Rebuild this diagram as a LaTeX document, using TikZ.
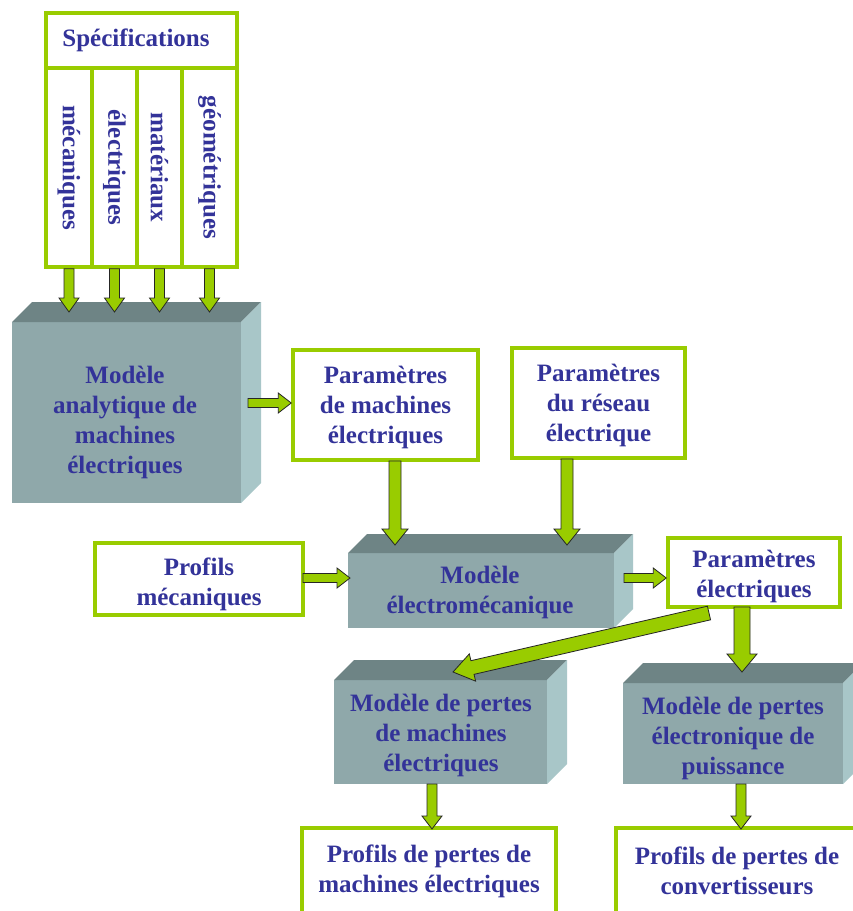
\documentclass[tikz,border=0pt]{standalone}
\usepackage{fontspec}
\setmainfont{Liberation Serif}
\usepackage{graphicx}
\usetikzlibrary{calc}
\definecolor{gr}{RGB}{153,204,0}
\definecolor{txt}{RGB}{51,51,153}
\definecolor{frontc}{RGB}{143,168,170}
\definecolor{topc}{RGB}{110,132,133}
\definecolor{sidec}{RGB}{168,198,200}
\newcommand{\txtfont}{\fontsize{25}{30}\selectfont\bfseries}
\tikzset{
  greenbox/.style={draw=gr, line width=3.5pt, fill=white, inner sep=0pt, align=center, text=txt, font=\txtfont},
  frontface/.style={fill=frontc, inner sep=0pt, outer sep=0pt},
  btext/.style={align=center, text=txt, font=\txtfont, inner sep=0pt},
  barrow/.style={fill=gr, draw=black!85, line width=0.8pt, line join=miter},
}
% #1 tail, #2 tip, #3 half shaft, #4 half head, #5 head length
\newcommand{\blockarrow}[5]{%
  \coordinate (bah) at ($(#2)!#5!(#1)$);
  \draw[barrow] ($(#1)!#3!90:(#2)$) -- ($(bah)!#3!90:(#2)$) -- ($(bah)!#4!90:(#2)$) -- (#2)
    -- ($(bah)!#4!-90:(#2)$) -- ($(bah)!#3!-90:(#2)$) -- ($(#1)!#3!-90:(#2)$) -- cycle;}
\newcommand{\boxthreed}[2]{%
  \fill[topc] (#1.north west) -- ++(#2,-#2) -- ($(#1.north east)+(#2,-#2)$) -- (#1.north east) -- cycle;
  \fill[sidec] (#1.north east) -- ++(#2,-#2) -- ($(#1.south east)+(#2,-#2)$) -- (#1.south east) -- cycle;}
\begin{document}
\begin{tikzpicture}[x=1pt,y=-1pt]
\useasboundingbox (0,0) rectangle (853,911);
\clip (0,0) rectangle (853,911);
\fill[white] (0,0) rectangle (853,911);

% Specifications
\node[greenbox, minimum width=191pt, minimum height=55pt] (spec) at (141.5,40.5) {};
\node[btext] (spect) at (136,40) {Spécifications};
\node[greenbox, minimum width=46pt, minimum height=199pt] (c1) at (69,167.5) {\rotatebox{-90}{mécaniques}};
\node[greenbox, minimum width=45pt, minimum height=199pt] (c2) at (114.5,167.5) {\rotatebox{-90}{électriques}};
\node[greenbox, minimum width=45pt, minimum height=199pt] (c3) at (159.5,167.5) {\rotatebox{-90}{matériaux}};
\node[greenbox, minimum width=55pt, minimum height=199pt] (c4) at (209.5,167.5) {\rotatebox{-90}{géométriques}};

% 3D boxes
\node[frontface, minimum width=229pt, minimum height=181pt] (m1) at (126.5,412.5) {};
\boxthreed{m1}{20}
\node[btext] (m1t) at (125,422) {Modèle\\analytique de\\machines\\électriques};

\node[frontface, minimum width=266pt, minimum height=75pt] (m2) at (481,590.5) {};
\boxthreed{m2}{19}
\node[btext] (m2t) at (480,592) {Modèle\\électromécanique};

\node[frontface, minimum width=213pt, minimum height=104pt] (m3) at (440.5,732) {};
\boxthreed{m3}{20}
\node[btext] (m3t) at (441,735) {Modèle de pertes\\de machines\\électriques};

\node[frontface, minimum width=220pt, minimum height=101pt] (m4) at (733,733.5) {};
\boxthreed{m4}{20}
\node[btext] (m4t) at (733,738) {Modèle de pertes\\électronique de\\puissance};

% green boxes
\node[greenbox, minimum width=185pt, minimum height=110pt] (pm) at (385.5,405) {};
\node[btext] (pmt) at (385.5,407) {Paramètres\\de machines\\électriques};
\node[greenbox, minimum width=173pt, minimum height=110pt] (pr) at (598.5,403) {};
\node[btext] (prt) at (598.5,405) {Paramètres\\du réseau\\électrique};
\node[greenbox, minimum width=208pt, minimum height=72pt] (pmec) at (199,579) {};
\node[btext] (pmect) at (199,584) {Profils\\mécaniques};
\node[greenbox, minimum width=172pt, minimum height=69pt] (pe) at (754,572.5) {};
\node[btext] (pet) at (754,576) {Paramètres\\électriques};
\node[greenbox, minimum width=254pt, minimum height=86pt] (b1) at (429,871) {Profils de pertes de\\machines électriques};
\node[greenbox, minimum width=242pt, minimum height=86pt] (b2) at (737,871) {Profils de pertes de\\convertisseurs};

% arrow coordinates
\coordinate (ylev) at (0,312);
\coordinate (t1) at (c1.south |- ylev);
\coordinate (t2) at (c2.south |- ylev);
\coordinate (t3) at (c3.south |- ylev);
\coordinate (t4) at (c4.south |- ylev);
\coordinate (a5s) at (248,403);
\coordinate (a6s) at (395,461);
\coordinate (a6e) at (395,545);
\coordinate (a7s) at (567,459);
\coordinate (a7e) at (567,545);
\coordinate (a8s) at (303,578);
\coordinate (a8e) at (350,578);
\coordinate (a9s) at (624,578);
\coordinate (a10s) at (742,607);
\coordinate (a10e) at (742,672);
\coordinate (a11s) at (709,613);
\coordinate (a11e) at (453,672);
\coordinate (a12s) at (432,784);
\coordinate (a12e) at (432,829);
\coordinate (a13s) at (741,784);
\coordinate (a13e) at (741,829);

% arrows
\blockarrow{c1.south}{t1}{5pt}{10pt}{14pt}
\blockarrow{c2.south}{t2}{5pt}{10pt}{14pt}
\blockarrow{c3.south}{t3}{5pt}{10pt}{14pt}
\blockarrow{c4.south}{t4}{5pt}{10pt}{14pt}
\blockarrow{a5s}{pm.west |- a5s}{4.5pt}{10pt}{13pt}
\blockarrow{a6s}{a6e}{6pt}{13pt}{16pt}
\blockarrow{a7s}{a7e}{6pt}{13pt}{16pt}
\blockarrow{a8s}{a8e}{4.5pt}{10pt}{13pt}
\blockarrow{a9s}{pe.west |- a9s}{4.5pt}{10pt}{13pt}
\blockarrow{a10s}{a10e}{8pt}{15pt}{18pt}
\blockarrow{a11s}{a11e}{7pt}{14pt}{20pt}
\blockarrow{a12s}{a12e}{5pt}{10pt}{13pt}
\blockarrow{a13s}{a13e}{5pt}{10pt}{13pt}
\end{tikzpicture}
\end{document}
